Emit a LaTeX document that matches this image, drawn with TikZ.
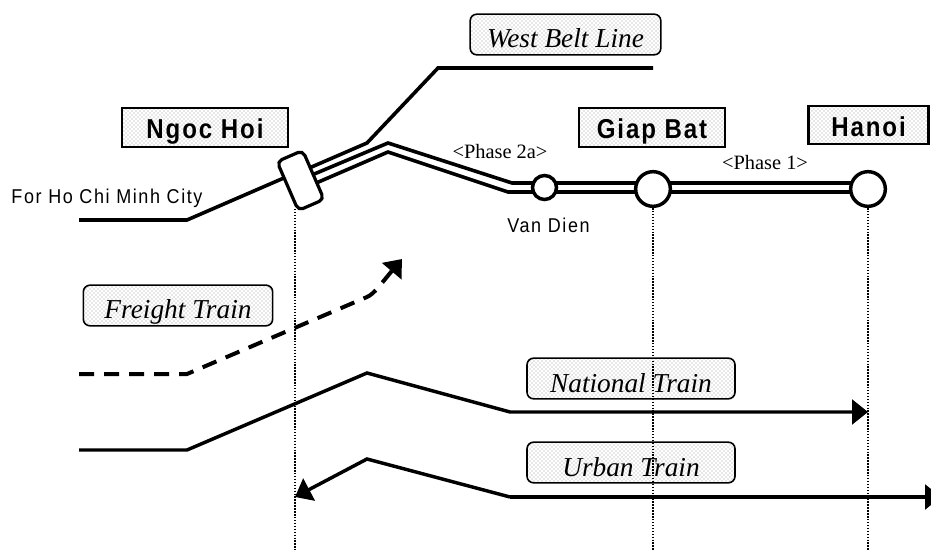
\documentclass[tikz,border=0pt]{standalone}
\usepackage{fontspec}
\usetikzlibrary{arrows.meta,backgrounds,patterns}
\setmainfont{Liberation Serif}
\newfontfamily\gothic[LetterSpace=8,FakeStretch=0.9]{Liberation Sans}
\newfontfamily\gothicbold[LetterSpace=7,FakeStretch=0.88]{Liberation Sans Bold}
\newcommand{\lowtext}[2]{\smash{\raisebox{-#1}{#2}}}
\tikzset{
  stationlabel/.style={draw=black,line width=1.6pt,rectangle,inner sep=0pt,pattern=crosshatch dots,pattern color=black!40,
     minimum height=29pt,font=\gothicbold\fontsize{20.5pt}{22pt}\selectfont},
  trainlabel/.style={draw=black,line width=1.2pt,rectangle,rounded corners=5pt,inner sep=0pt,pattern=crosshatch dots,pattern color=black!40,
     minimum height=30.5pt,font=\itshape\fontsize{20.5pt}{24pt}\selectfont},
  stop/.style={circle,draw=black,fill=white,line width=2.6pt,inner sep=0pt},
  junctionbox/.style={draw=black,fill=white,line width=2.4pt,rounded corners=4pt,minimum width=21pt,minimum height=40pt,inner sep=0pt,rotate=23.5},
  track/.style={line width=2.7pt,line join=miter},
  guide/.style={line width=1pt,dash pattern=on 1.1pt off 1.1pt},
  gothiclabel/.style={font=\gothic\fontsize{15pt}{17pt}\selectfont,inner sep=0pt},
  phaselabel/.style={font=\fontsize{15.3pt}{17pt}\selectfont,inner sep=0pt},
  trainarrow/.style={line width=2.6pt,-{Triangle[length=12pt,width=18.5pt]}},
}
\begin{document}
\begin{tikzpicture}[x=.75pt,y=-.75pt]
\useasboundingbox (0,0) rectangle (931,559);
\clip (0,0) rectangle (931,559);
% labels
\node[stationlabel,minimum width=124pt] (ngoc) at (205,127.5) {\lowtext{8.6pt}{Ngoc Hoi}};
\node[stationlabel,minimum width=109pt] (giap) at (652,127.5) {\lowtext{8.6pt}{Giap Bat}};
\node[stationlabel,minimum width=90pt] (hanoi) at (868.5,125) {\lowtext{8.4pt}{Hanoi}};
\node[trainlabel,minimum width=143pt] (west) at (565.5,34.5) {\lowtext{10pt}{West Belt Line}};
\node[trainlabel,minimum width=142pt] (freight) at (178,305.5) {\lowtext{10pt}{Freight Train}};
\node[trainlabel,minimum width=156pt] (national) at (631,378.5) {\lowtext{10.5pt}{National Train}};
\node[trainlabel,minimum width=156pt] (urban) at (631,462.5) {\lowtext{10.5pt}{Urban Train}};
\node[gothiclabel] (forhcm) at (107,198) {For Ho Chi Minh City};
\node[gothiclabel] (vandienlabel) at (548.5,225) {Van Dien};
\node[phaselabel] (phase2) at (500,152) {<Phase 2a>};
\node[phaselabel] (phase1) at (765,163) {<Phase 1>};
% stations
\node[junctionbox] (jct) at (300.5,180.5) {};
\node[stop,minimum size=18pt] (vandien) at (544.5,187.5) {};
\node[stop,minimum size=26pt] (giapst) at (653,189) {};
\node[stop,minimum size=26pt] (hanoist) at (868,189) {};
% named track points
\coordinate (a0) at (79,220); \coordinate (a1) at (187,220); \coordinate (a2) at (300,171);
\coordinate (wb0) at (300,172); \coordinate (wb1) at (367,143);
\coordinate (wb2) at (438,68); \coordinate (wb3) at (653,68);
\coordinate (u0) at (300,180); \coordinate (u1) at (388,143); \coordinate (u2) at (512,183); \coordinate (u3) at (868,183);
\coordinate (l0) at (300,190); \coordinate (l1) at (388,152); \coordinate (l2) at (508,192); \coordinate (l3) at (868,192);
\begin{scope}[on background layer]
\draw[track] (a0) -- (a1) -- (a2);
\draw[track] (wb0) -- (wb1) -- (wb2) -- (wb3);
\draw[track] (u0) -- (u1) -- (u2) -- (u3);
\draw[track] (l0) -- (l1) -- (l2) -- (l3);
\end{scope}
% guides
\coordinate (g1) at (295,550); \coordinate (g2) at (653,550); \coordinate (g3) at (868,550);
\coordinate (j1) at (295,209);
\draw[guide] (j1) -- (g1);
\draw[guide] (giapst.south) -- (g2);
\draw[guide] (hanoist.south) -- (g3);
% trains
\coordinate (f0) at (79,374); \coordinate (f1) at (187,374); \coordinate (f2) at (367,297); \coordinate (f3) at (402,259);
\draw[trainarrow,line width=3pt,dash pattern=on 11.25pt off 7.5pt] (f0) -- (f1) -- (f2) .. controls (374,294) and (380,285) .. (f3);
\coordinate (n0) at (79,450); \coordinate (n1) at (187,450); \coordinate (n2) at (367,373); \coordinate (n3) at (510,412); \coordinate (n4) at (868,412);
\draw[trainarrow] (n0) -- (n1) -- (n2) -- (n3) -- (n4);
\coordinate (t0) at (295,497); \coordinate (t1) at (367,459); \coordinate (t2) at (510,497); \coordinate (t3) at (941,497);
\draw[trainarrow] (t2) -- (t1) -- (t0);
\draw[trainarrow] (t2) -- (t3);
\end{tikzpicture}
\end{document}
